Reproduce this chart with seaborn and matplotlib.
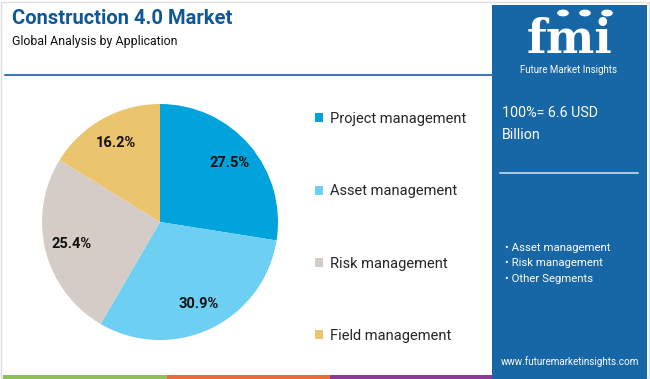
import matplotlib
matplotlib.use("Agg")
import matplotlib.pyplot as plt
import seaborn as sns
from matplotlib.patches import Rectangle, Patch, Circle
from matplotlib.lines import Line2D

# chart data
segments = ["Project management", "Asset management", "Risk management", "Field management"]
shares = [27.5, 30.9, 25.4, 16.2]
seg_colors = ["#00a3dc", "#6dcff2", "#d6ccc7", "#ebc46e"]
panel_bullets = ["Asset management", "Risk management", "Other Segments"]
total_text = "100%= 6.6 USD\nBillion"

sns.set_style("white")
plt.rcParams["font.family"] = ["Roboto", "DejaVu Sans"]

W, H = 650, 379
fig = plt.figure(figsize=(6.5, 3.79), dpi=100)
fig.patch.set_facecolor("white")


def fx(x):
    return x / W


def fy(y):
    return 1 - y / H


# light frame around the picture
fig.patches.append(Rectangle((0.002, 0.002), 0.996, 0.994, transform=fig.transFigure,
                             fill=False, edgecolor="#dddddd", lw=1))

# title block
fig.text(fx(12), fy(18), "Construction 4.0 Market", fontsize=14.5, fontweight="bold",
         color="#0f5796", va="center", ha="left")
fig.text(fx(12), fy(41), "Global Analysis by Application", fontsize=8.9,
         color="#111111", va="center", ha="left")
fig.add_artist(Line2D([fx(5), fx(492)], [fy(75), fy(75)], transform=fig.transFigure,
                      color="#3b78bd", lw=1.5))

# pie
palette = sns.color_palette(seg_colors)
ax = fig.add_axes([fx(42), fy(104 + 236), fx(236), 236 / H])
wedges, texts, autotexts = ax.pie(shares, colors=palette, startangle=90, counterclock=False,
                                  autopct="%.1f%%", pctdistance=0.77,
                                  wedgeprops=dict(linewidth=0))
for t in autotexts:
    t.set_fontsize(10.5)
    t.set_fontweight("bold")
    t.set_color("#111111")
ax.set_xlim(-1, 1)
ax.set_ylim(-1, 1)
ax.axis("off")

# legend
handles = [Patch(facecolor=c, edgecolor="none") for c in palette]
fig.legend(handles, segments, loc="upper left", bbox_to_anchor=(fx(315), fy(112)),
           frameon=False, fontsize=10.5, labelspacing=4.0, handlelength=0.55,
           handleheight=0.55, handletextpad=0.45, borderaxespad=0, borderpad=0)

# right panel
fig.patches.append(Rectangle((fx(492), 0), fx(647) - fx(492), fy(5), transform=fig.transFigure,
                             facecolor="#1766a6", edgecolor="none"))
fig.text(fx(570), fy(53), "fmi", fontsize=33, fontweight="bold", family="DejaVu Serif",
         color="white", ha="center", va="baseline")
for yy in range(18, 54, 4):
    fig.add_artist(Line2D([fx(512), fx(630)], [fy(yy), fy(yy)], transform=fig.transFigure,
                          color="#1766a6", lw=0.9))
for cx in (563, 585, 607):
    fig.patches.append(Circle((fx(cx), fy(13)), 0.009, transform=fig.transFigure,
                              facecolor="white", edgecolor="none"))
fig.text(fx(568), fy(70), "Future Market Insights", fontsize=7, color="white",
         ha="center", va="center")
fig.text(fx(502), fy(124), total_text, fontsize=10.3, color="white", ha="left",
         va="center", linespacing=1.75)
fig.add_artist(Line2D([fx(500), fx(638)], [fy(173), fy(173)], transform=fig.transFigure,
                      color="#b8d3ee", lw=1.3))
for i, b in enumerate(panel_bullets):
    fig.text(fx(505), fy(248 + i * 15.5), "\u2022 " + b, fontsize=8.2, color="white",
             ha="left", va="center")
fig.text(fx(570), fy(362), "www.futuremarketinsights.com", fontsize=7.1, color="white",
         ha="center", va="center")

# bottom colour strip
for x0, x1, c in [(3, 167, "#8dc153"), (167, 330, "#ec6d39"), (330, 492, "#8b3a95")]:
    fig.patches.append(Rectangle((fx(x0), 0), fx(x1) - fx(x0), 4 / H,
                                 transform=fig.transFigure, facecolor=c, edgecolor="none"))

fig.savefig("out.png", dpi=100)
